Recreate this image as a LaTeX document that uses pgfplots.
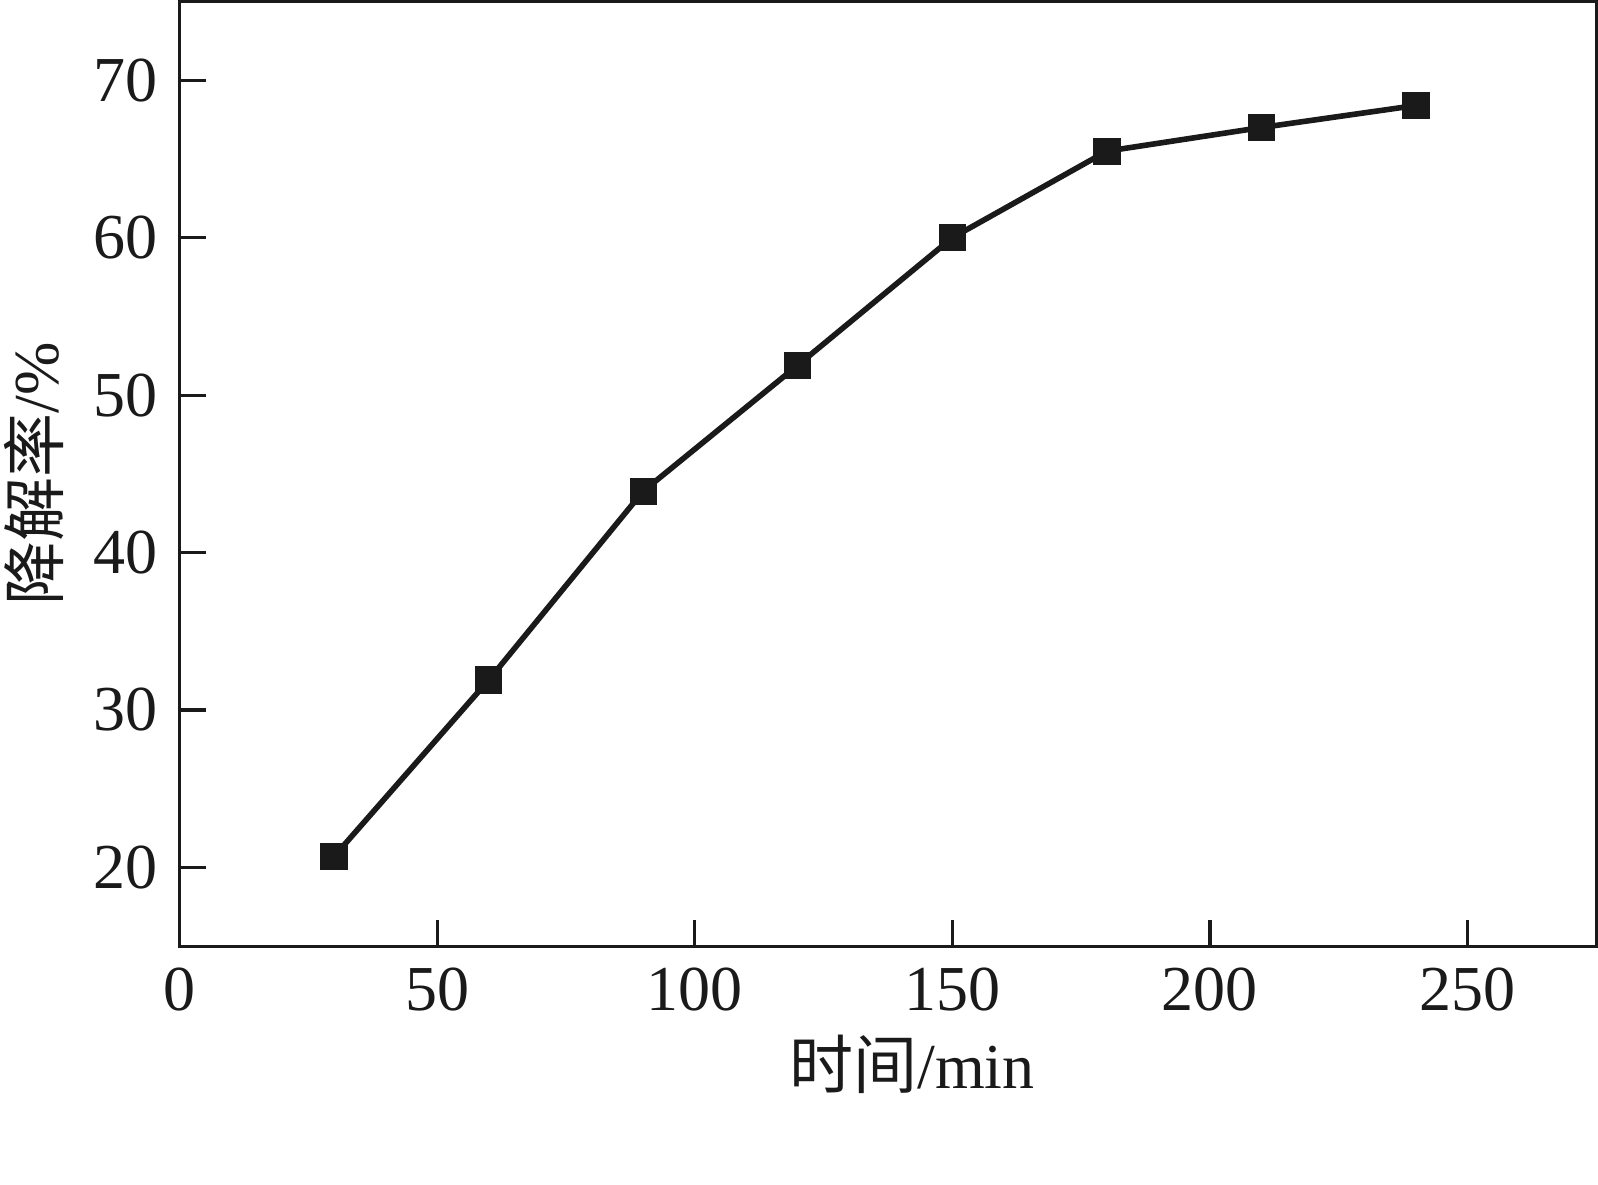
\documentclass[border=0pt]{standalone}
\usepackage{fontspec}
\setmainfont{Liberation Serif}
\newfontfamily\cjk{Noto Sans CJK SC}
\usepackage{pgfplots}
\pgfplotsset{compat=1.18}
\definecolor{ink}{HTML}{1A1A1A}
\begin{document}
\fontsize{16}{19}\selectfont
\begin{tikzpicture}
\begin{axis}[
  scale only axis,
  width=354pt, height=236pt,
  xmin=0, xmax=275, ymin=15, ymax=75,
  xtick={0,50,100,150,200,250},
  ytick={20,30,40,50,60,70},
  tick align=inside,
  xtick pos=bottom, ytick pos=left,
  major tick length=6.5pt,
  axis line style={line width=0.8pt, ink},
  every tick/.style={line width=0.8pt, ink},
  tick label style={font=\fontsize{16}{19}\selectfont, text=ink},
  /pgf/number format/assume math mode=true,
  label style={font=\fontsize{16}{19}\selectfont, text=ink},
  xlabel={{\cjk 时间}/min},
  ylabel={{\cjk 降解率}/\%},
  xlabel style={yshift=5pt, xshift=6pt},
  ylabel style={inner sep=0pt, yshift=1.8pt},
  clip=false,
]
\addplot[ink, line width=1.4pt, mark=square*, mark size=3.2pt, mark options={solid, fill=ink, draw=ink, line width=0.4pt}]
coordinates {
(30,20.7) (60,31.9) (90,43.9) (120,51.9) (150,60.0) (180,65.5) (210,67.0) (240,68.4)
};
\end{axis}
\path (current axis.north west) ++(0,-295.5pt) coordinate (bb);
\path (bb) -- ++(1pt,0);
\path (current bounding box.south west) -- ++(-1.1pt,0);
\end{tikzpicture}
\end{document}
